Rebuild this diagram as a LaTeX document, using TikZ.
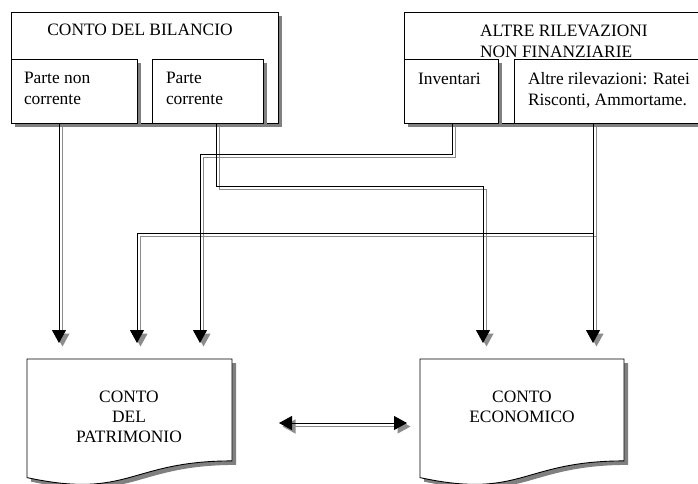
\documentclass[tikz,border=0pt]{standalone}
\usepackage{fontspec}
\setmainfont{Liberation Serif}
\usetikzlibrary{arrows.meta,shadows,backgrounds}
\definecolor{boxshade}{gray}{0.5}
\definecolor{lineshade}{gray}{0.55}

% every connector, drawn once as a shadow and once in black
\newcommand\drawlinks[1]{%
  \draw[#1,tip] (pnc-out) -- (cdp-in1);
  \draw[#1,tip] (pc-out) -- ++(0,63) -| (ce-in1);
  \draw[#1,tip] (inv-out) -- ++(0,31) -| (cdp-in3);
  \draw[#1,tip] (alt-out) -- (ce-in2);
  \draw[#1,tip] (alt-split) -| (cdp-in2);
  \draw[#1,twotips] (swap-l) -- (swap-r);
}

\begin{document}
\begin{tikzpicture}[x=1pt,y=-1pt,
  every node/.style={inner sep=0pt,outer sep=0pt},
  txt/.style={font=\fontsize{17.4pt}{20.5pt}\selectfont},
  panel/.style={draw=black,line width=0.9pt,fill=white,anchor=north west,
    drop shadow={shadow xshift=4pt,shadow yshift=-4pt,fill=boxshade,opacity=1}},
  link/.style={draw=black,line width=1pt},
  linkshade/.style={draw=lineshade,line width=1.2pt},
  tip/.style={-{Triangle[length=13pt,width=14pt]}},
  twotips/.style={{Triangle[length=13pt,width=14pt]}-{Triangle[length=13pt,width=14pt]}},
  docframe/.style={draw=black,line width=0.9pt,fill=white},
]
\useasboundingbox (0,0) rectangle (698,483);
\clip (0,0) rectangle (698,483);

% ---- upper panels -------------------------------------------------
\node[panel,minimum width=267pt,minimum height=111pt] (cb) at (11,12) {};
\node[panel,minimum width=126pt,minimum height=64pt] (pnc) at (11,59) {};
\node[panel,minimum width=111pt,minimum height=64pt] (pc) at (152,59) {};

\node[panel,minimum width=320pt,minimum height=111pt] (arnf) at (404,12) {};
\node[panel,minimum width=94pt,minimum height=64pt] (inv) at (404,59) {};
\node[panel,minimum width=210pt,minimum height=64pt] (alt) at (514,59) {};

\node[txt,anchor=base] (cb-t) at (140,35) {CONTO DEL BILANCIO};
\node[txt,anchor=base west] (pnc-t1) at (24,83.5) {Parte non};
\node[txt,anchor=base west] (pnc-t2) at (24,104) {corrente};
\node[txt,anchor=base west] (pc-t1) at (166,83.5) {Parte};
\node[txt,anchor=base west] (pc-t2) at (166,104) {corrente};

\node[txt,anchor=base west] (arnf-t1) at (480,36.5) {ALTRE RILEVAZIONI};
\node[txt,anchor=base west] (arnf-t2) at (480,57) {NON FINANZIARIE};
\node[txt,anchor=base west] (inv-t) at (418,84.5) {Inventari};
\node[txt,anchor=base west] (alt-t1) at (528,84.5) {Altre rilevazioni: Ratei};
\node[txt,anchor=base west] (alt-t2) at (528,105) {Risconti, Ammortame.};

% ---- lower document shapes ---------------------------------------
\node[minimum width=205pt,minimum height=127pt] (cdp) at (129.5,422.5) {};
\node[minimum width=204pt,minimum height=127pt] (ce) at (522,422.5) {};

\foreach \d in {cdp,ce}{
  \fill[boxshade,transform canvas={shift={(4pt,-4pt)}}]
    (\d.north west) -- (\d.north east) -- ([yshift=25.1pt]\d.south east)
    .. controls ([yshift=25.1pt]\d.south) and ([yshift=-13.6pt]\d.south)
    .. ([yshift=8.4pt]\d.south west) -- cycle;
  \path[docframe]
    (\d.north west) -- (\d.north east) -- ([yshift=25.1pt]\d.south east)
    .. controls ([yshift=25.1pt]\d.south) and ([yshift=-13.6pt]\d.south)
    .. ([yshift=8.4pt]\d.south west) -- cycle;
}

\node[txt,anchor=base] (cdp-t1) at (129,402) {CONTO};
\node[txt,anchor=base] (cdp-t2) at (129,422) {DEL};
\node[txt,anchor=base] (cdp-t3) at (129,442.5) {PATRIMONIO};
\node[txt,anchor=base] (ce-t1) at (522,402) {CONTO};
\node[txt,anchor=base] (ce-t2) at (522,422.5) {ECONOMICO};

% ---- connector end points ----------------------------------------
\coordinate (pnc-out) at (59,123);
\coordinate (pc-out) at (216,123);
\coordinate (inv-out) at (452,123);
\coordinate (alt-out) at (593,123);
\coordinate (alt-split) at (593,233);
\coordinate (cdp-in1) at (59,343);
\coordinate (cdp-in2) at (137,343);
\coordinate (cdp-in3) at (200,343);
\coordinate (ce-in1) at (483,343);
\coordinate (ce-in2) at (593,343);
\coordinate (swap-l) at (279,423);
\coordinate (swap-r) at (407,423);

\begin{scope}[transform canvas={shift={(3.5pt,-3.5pt)}}]
  \drawlinks{linkshade}
\end{scope}
\drawlinks{link}
\end{tikzpicture}
\end{document}
